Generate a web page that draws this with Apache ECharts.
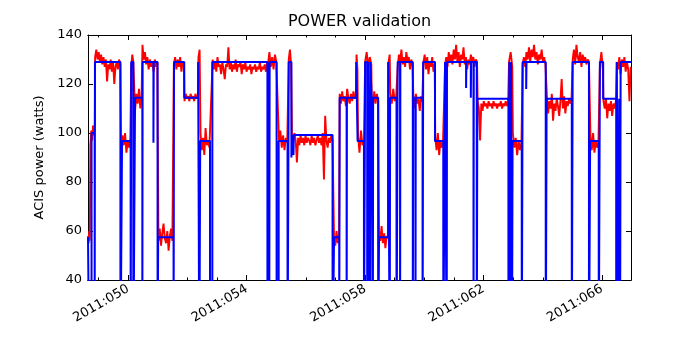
<!DOCTYPE html>
<html><head><meta charset="utf-8">
<script src="https://cdn.jsdelivr.net/npm/echarts@6/dist/echarts.min.js"></script>
<style>html,body{margin:0;padding:0;background:#fff}#c{width:700px;height:350px}</style>
</head><body><div id="c"></div><script>
const chartTitle = 'POWER validation';
const yName = 'ACIS power (watts)';
const xMin = 48.64, xMax = 66.98;
const majorTicks = [50, 54, 58, 62, 66];
const minorTicks = [49,50,51,52,53,54,55,56,57,58,59,60,61,62,63,64,65,66];

// measured power: [start day, end day, readings spread across the span]
const redSegStart = [48.64,48.72,48.88,49.76,50.10,50.23,50.48,51.02,51.54,51.90,52.37,52.44,52.85,54.72,55.09,55.42,55.53,56.95,57.14,57.71,57.76,58.00,58.22,58.47,58.78,58.85,59.10,59.63,59.97,60.37,60.70,61.80,62.86,62.99,63.32,64.14,65.01,65.61,65.93,66.05,66.50];
const redSegEnd   = [48.70,48.87,49.73,50.07,50.17,50.45,50.98,51.49,51.88,52.35,52.41,52.74,54.69,55.00,55.37,55.50,56.90,57.12,57.69,57.74,57.96,58.21,58.44,58.77,58.83,59.05,59.60,59.93,60.35,60.63,61.78,62.83,62.97,63.28,64.09,64.97,65.56,65.88,66.03,66.47,66.97];
const redSegValues = [
  [58,55,60,56],
  [95,101,97,103,99,104],
  [131,134,130,133,129,132,128,131,127,130,121,128,126,130,125,129,120,127,129,126,130,128],
  [93,99,95,100,92,97,94,98],
  [127,132,129],
  [109,116,112,118,110,115],
  [136,130,133,128,131,126,130,127,129,125,130,127,129],
  [56,61,54,59,63,57,55,60,52,58,61,56],
  [128,131,126,130,127,131,125,129,128],
  [113,116,114,115,113,116,114,115,113,116,114,115],
  [131,134],
  [100,93,98,91,102,95,97,94],
  [130,126,129,125,131,127,128,124,129,126,122,128,127,135,126,129,125,128,126,130,125,128,127,129,124,128,126,129,125,127,126,128,124,127,126,128,125,127,126,129,125,127,126,128,125,129],
  [128,133,127,131,126,132,129],
  [97,101,94,99,93,98,96],
  [130,134,128],
  [99,96,100,97,88,98,95,99,96,98,95,99,96,98,97,95,99,96,98,95,97,99,96,98,95,100,81,107,97,94,98,96,99,97],
  [57,54,60,55,58],
  [116,112,117,113,115,111,118,114,112,116,113,117,114,116],
  [132,126],
  [99,92,101,95,97],
  [129,133,127,131,128],
  [115,111,117,112,116,113],
  [60,56,62,55,59,53,58,57],
  [128,132],
  [116,112,118,113,115],
  [127,132,129,134,128,131,127,133,129,131,126,130,128],
  [115,110,116,112,114,109,115,113],
  [129,132,126,131,124,129,127,131,125,128],
  [98,93,100,91,97,94,96],
  [128,131,127,133,129,132,128,134,130,136,129,133,127,132,130,135,128,131,126,130,128,132,129,131,127,130,129],
  [113,110,97,112,109,113,111,112,110,113,111,112,110,113,111,112,110,112,111,113,110,112,111,113,111,112],
  [129,133,127],
  [100,94,98,91,97,93,96],
  [128,131,127,133,130,135,129,134,131,136,130,133,128,132,130,134,129,131,128],
  [115,108,113,110,116,105,112,109,114,111,107,113,122,110,115,108,113,111,114,112,113],
  [130,134,128,136,131,129,133,127,132,129,131,128,130,129],
  [99,93,100,92,97,94,96],
  [128,133,126],
  [113,110,114,106,112,109,113,107,112,110,113],
  [129,126,131,124,130,127,131,125,129,126,113,127]
];

// predicted power: [day, level from that day on]
const bluePredicted = [
  [48.64,57.5],[48.685,0],[48.76,100],[48.865,0],[48.875,129],[49.735,0],[49.79,96.7],[50.08,0],[50.10,129],[50.17,0],
  [50.23,114.4],[50.475,0],[50.485,129],[50.85,96],[50.86,129],[50.99,0],[51.01,57.5],[51.53,0],[51.545,129],[51.89,114.4],
  [52.36,129],[52.40,0],[52.43,96.7],[52.76,0],[52.84,129],[54.70,0],[54.715,129],[54.76,0],[54.775,129],[55.01,0],
  [55.08,96.7],[55.38,0],[55.42,129],[55.51,90],[55.525,99.2],[55.58,91],[55.59,99.2],[56.90,0],[56.95,57.5],[57.125,0],
  [57.14,114.4],[57.375,0],[57.385,114.4],[57.70,129],[57.745,96.7],[57.96,0],[58.00,129],[58.07,0],[58.10,129],[58.16,0],
  [58.175,129],[58.22,114.4],[58.26,0],[58.27,114.4],[58.44,0],[58.47,57.5],[58.78,129],[58.83,0],[58.845,114.4],[59.06,0],
  [59.10,129],[59.18,0],[59.19,129],[59.61,0],[59.625,114.4],[59.70,0],[59.71,114.4],[59.94,0],[59.96,129],[60.36,96.7],
  [60.64,0],[60.70,129],[60.755,0],[60.765,129],[61.41,118.4],[61.42,129],[61.57,114.4],[61.58,129],[61.66,0],[61.67,129],
  [61.77,0],[61.79,114],[62.84,0],[62.87,129],[62.90,0],[62.93,129],[62.96,0],[62.98,96.7],[63.29,0],[63.32,129],
  [63.44,118],[63.45,129],[64.10,0],[64.13,114],[64.98,0],[65.01,129],[65.56,0],[65.60,96.7],[65.89,0],[65.93,129],
  [66.04,114],[66.48,0],[66.50,129],[66.55,0],[66.58,114],[66.61,0],[66.63,129],[66.98,129]
];

const red = [];
for (let s = 0; s < redSegValues.length; s++) {
  const a = redSegStart[s], b = redSegEnd[s], vals = redSegValues[s], n = vals.length;
  for (let i = 0; i < n; i++) red.push([a + (b - a) * i / (n - 1), vals[i]]);
}

const FONT = 'DejaVu Sans';
function xAx(pos, ticks, len, labels) {
  return {
    type: 'value', min: xMin, max: xMax, position: pos,
    axisLine: { show: true, onZero: false, lineStyle: { color: '#000', width: 1 } },
    axisTick: { show: true, inside: true, length: len, customValues: ticks, lineStyle: { color: '#000' } },
    axisLabel: labels ? { show: true, customValues: majorTicks, rotate: 30, formatter: v => '2011:0' + v,
      fontSize: 13, color: '#000', fontFamily: FONT, margin: 8 } : { show: false },
    splitLine: { show: false }
  };
}
function yAx(pos, labels) {
  const o = {
    type: 'value', min: 40, max: 140, interval: 20, position: pos,
    axisLine: { show: true, onZero: false, lineStyle: { color: '#000', width: 1 } },
    axisTick: { show: true, inside: true, length: 5, lineStyle: { color: '#000' } },
    axisLabel: labels ? { show: true, fontSize: 13, color: '#000', fontFamily: FONT, margin: 6 } : { show: false },
    splitLine: { show: false }
  };
  if (labels) {
    o.name = yName; o.nameLocation = 'middle'; o.nameGap = 38;
    o.nameTextStyle = { fontSize: 13, color: '#000', fontFamily: FONT };
  }
  return o;
}

const chart = echarts.init(document.getElementById('c'), null, { renderer: 'canvas' });
chart.setOption({
  animation: false,
  backgroundColor: '#fff',
  grid: { left: 88, right: 69, top: 35, bottom: 70, containLabel: false, outerBoundsMode: 'none', show: false },
  graphic: [{ type: 'text', x: 359.5, y: 22, style: { text: chartTitle, textAlign: 'center', textVerticalAlign: 'middle',
    font: '16px "DejaVu Sans"', fill: '#000' } }],
  xAxis: [xAx('bottom', majorTicks, 5, true), xAx('bottom', minorTicks, 2.5, false), xAx('top', majorTicks, 5, false), xAx('top', minorTicks, 2.5, false)],
  yAxis: [yAx('left', true), yAx('right', false)],
  series: [
    { type: 'line', data: red, xAxisIndex: 0, yAxisIndex: 0, showSymbol: false, symbol: 'none', clip: true,
      lineStyle: { color: '#ff0000', width: 1.9 }, z: 2 },
    { type: 'line', data: bluePredicted, xAxisIndex: 0, yAxisIndex: 0, step: 'end', showSymbol: false, symbol: 'none', clip: true,
      lineStyle: { color: '#0000ff', width: 2 }, z: 3 }
  ]
});
</script></body></html>
